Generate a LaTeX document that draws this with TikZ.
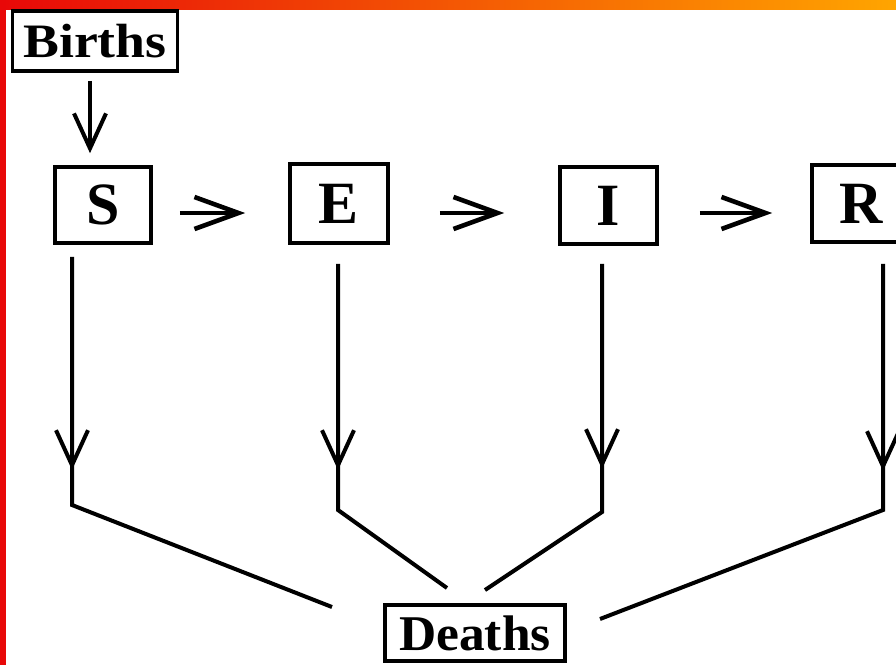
\documentclass[tikz,border=0pt]{standalone}
\usepackage{fontspec}
\setmainfont{Liberation Serif}
\usetikzlibrary{arrows.meta}

\definecolor{barRed}{RGB}{232,8,8}
\definecolor{barOrange}{RGB}{255,165,0}

\tikzset{
  compartment/.style={draw=black, line width=3.6pt, inner sep=0pt, fill=white,
    font=\bfseries\fontsize{60}{60}\selectfont},
  labelbox/.style={draw=black, line width=3.6pt, inner sep=0pt, fill=white},
  flow/.style={line width=4pt, draw=black},
  hflow/.style={line width=4.6pt, draw=black, -{Straight Barb[length=44pt,width=32pt]}},
  vflow/.style={flow, -{Straight Barb[length=35pt,width=32pt]}},
}

\begin{document}
\begin{tikzpicture}[x=1pt, y=-1pt]
  \useasboundingbox (0,0) rectangle (896,665);
  \clip (0,0) rectangle (896,665);
  \fill[white] (0,0) rectangle (896,665);

  % frame: gradient bar on top, red bar on the left
  \shade[left color=barRed, right color=barOrange] (0,0) rectangle (896,9);
  \fill[barRed] (0,0) rectangle (6,665);

  % compartments
  \node[labelbox, minimum width=165pt, minimum height=60pt] (births) at (95,41)
    {\scalebox{1.12}[1]{\bfseries\fontsize{48}{48}\selectfont Births}};
  \node[compartment, minimum width=96pt, minimum height=76pt] (S) at (103,205) {S};
  \node[compartment, minimum width=98pt, minimum height=79pt] (E) at (339,203.5) {E};
  \node[compartment, minimum width=97pt, minimum height=77pt] (I) at (608.5,205.5) {I};
  \node[compartment, minimum width=98pt, minimum height=77pt] (R) at (861,203.5) {R};
  \node[labelbox, minimum width=180pt, minimum height=56pt] (deaths) at (475,633)
    {\scalebox{1.03}[1]{\bfseries\fontsize{50}{50}\selectfont Deaths}};

  % births and progression
  \draw[vflow] ([shift={(-5,8)}]births.south) -- ([shift={(-13,-12)}]S.north);
  \draw[hflow] ([shift={(27,8)}]S.east) -- ([shift={(-43,9.5)}]E.west);
  \draw[hflow] ([shift={(50,9.5)}]E.east) -- ([shift={(-54,7.5)}]I.west);
  \draw[hflow] ([shift={(41,7.5)}]I.east) -- ([shift={(-38,9.5)}]R.west);

  % mortality branches
  \coordinate (sTop) at ([shift={(-31,12)}]S.south);
  \coordinate (eTop) at ([shift={(-1,19)}]E.south);
  \coordinate (iTop) at ([shift={(-6.5,18)}]I.south);
  \coordinate (rTop) at ([shift={(22,20)}]R.south);
  \coordinate (sTip) at (72,470);   \coordinate (sKnee) at (72,505);  \coordinate (sEnd) at (332,607);
  \coordinate (eTip) at (338,470);  \coordinate (eKnee) at (338,510); \coordinate (eEnd) at (447,588);
  \coordinate (iTip) at (602,469);  \coordinate (iKnee) at (602,512); \coordinate (iEnd) at (485,590);
  \coordinate (rTip) at (883,471);  \coordinate (rKnee) at (883,510); \coordinate (rEnd) at (600,619);

  \foreach \c in {s,e,i,r}{
    \draw[flow] (\c Top) -- (\c Knee) -- (\c End);
    \draw[vflow] (\c Top) -- (\c Tip);
  }
\end{tikzpicture}
\end{document}
